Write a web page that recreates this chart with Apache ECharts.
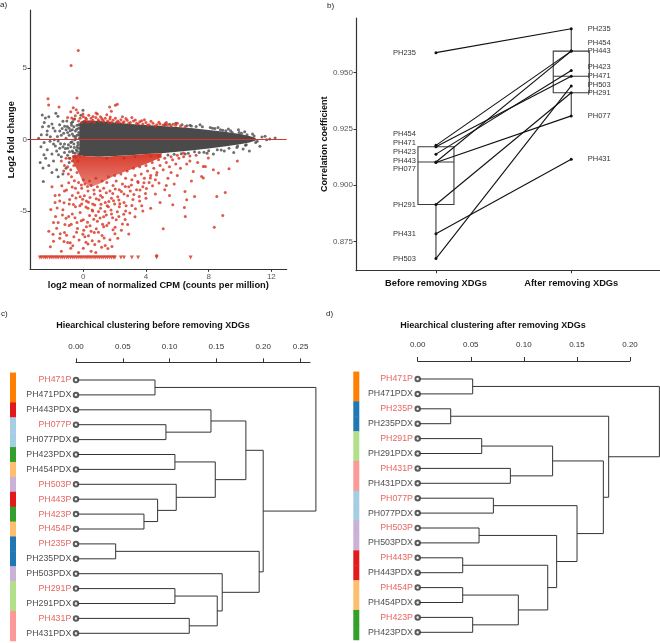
<!DOCTYPE html>
<html>
<head>
<meta charset="utf-8">
<script src="https://cdn.jsdelivr.net/npm/echarts@6.0.0/dist/echarts.min.js"></script>
<style>
html, body { margin: 0; padding: 0; background: #fff; }
#chart { width: 660px; height: 643px; }
</style>
</head>
<body>
<div id="chart"></div>
<script>
// ---------- panel a: MA plot ----------
// dense grey core drawn as an envelope (x, upper, lower)
const bandX  = [-0.25, 0, 1, 2, 3, 4, 5, 6, 7, 8, 9, 10, 10.6, 11];
const bandHi = [1.15, 1.35, 1.3, 1.2, 1.1, 1.02, 0.95, 0.88, 0.8, 0.68, 0.55, 0.4, 0.25, 0.12];
const bandLo = [-1.05, -1.15, -1.2, -1.15, -1.1, -1.0, -0.95, -0.85, -0.75, -0.62, -0.48, -0.32, -0.2, -0.06];
// dense red core just under the grey band
const coreX  = [-0.7, -0.3, 0, 0.5, 1, 1.5, 2, 2.5, 3, 3.5, 4, 4.5, 5];
const coreHi = [-1.1, -1.05, -1.15, -1.18, -1.2, -1.2, -1.15, -1.12, -1.1, -1.05, -1.0, -0.98, -0.95];
const coreLo = [-1.5, -2.3, -3.0, -3.3, -3.1, -2.8, -2.5, -2.3, -2.1, -1.9, -1.7, -1.45, -1.25];

const greyPts = [
  [-2.68,0.35],[-2.42,1.52],[-2.49,1.2],[-2.21,0.93],[-2.3,0.6],[-2.0,1.1],[-1.62,1.63],[-1.51,1.05],
  [-1.3,1.28],[-1.19,0.93],[-0.76,1.16],[-0.9,0.8],[-0.6,0.9],[-0.4,1.0],[-1.0,0.5],[-1.4,0.3],
  [-1.8,0.6],[-2.1,0.2],[-2.5,-0.2],[-2.7,-0.5],[-2.3,-0.7],[-1.9,-0.3],[-1.6,-0.1],[-1.2,-0.3],
  [-0.8,-0.2],[-0.5,0.2],[-0.3,0.5],[-0.7,0.4],[-1.1,0.1],[-1.5,-0.6],[-2.0,-1.0],[-2.4,-1.3],
  [-2.51,-1.05],[-2.57,-1.99],[-2.55,-2.92],[-2.2,-1.8],[-1.9,-1.5],[-1.7,-2.1],[-1.4,-1.2],[-1.2,-0.9],
  [-1.0,-0.6],[-0.7,-0.8],[-0.4,-0.5],[-0.3,-1.0],[-0.6,-1.2],[-0.9,-1.6],[-1.1,-2.0],[-1.3,-2.4],
  [-1.6,-2.6],[-2.0,-2.3],[-1.85,0.0],[-2.2,1.6],[-1.75,1.85],[-0.02,2.05],[-1.05,1.3],[-0.55,1.45],
  [-2.6,0.9],[-2.85,0.1],[-0.15,1.7],[-0.9,0.3],[-0.8,-0.5],[-0.7,0.7],[-0.6,-0.3],[-0.5,0.6],
  [-0.45,-0.7],[-0.4,0.3],[-0.35,-0.2],[-0.3,0.8],[-0.3,-0.6],[-0.25,0.1],[-0.2,-0.9],[-0.55,0.0],
  [-0.65,-0.9],[-0.75,1.0],[-1.1,0.7],[-1.3,-0.5],[-1.5,0.6],[-1.7,-0.8],[-1.0,-1.1],[-0.85,-1.3],
  [-1.25,0.45],[-0.95,-0.35],[-0.42,0.72],[-0.58,-0.55],[-0.33,-0.35],[-0.48,0.05],[-0.62,0.25],
  [-0.72,-0.15],[-0.83,0.62],[-0.38,-0.82],[-0.27,0.32],[-0.52,-0.95],[-0.68,1.25],[-0.88,-0.85],
  [-1.02,0.92],[-1.15,-0.62],[-1.35,0.78],[-1.45,-0.28],[-1.65,0.22],[-1.78,-0.45],[-2.12,-0.12],
  [-2.32,0.35],[-1.92,0.82],[-1.58,-1.05],[-2.75,-1.6],[-2.62,1.72],[-0.2,-1.05],[-0.28,1.05],
  [7.45,1.05],[9.26,0.75],[9.9,0.7],[8.6,0.85],[10.3,0.55],[10.8,0.4],[11.27,-0.47],[11.6,0.23],
  [12.24,0.12],[11.0,-0.2],[10.6,-0.8],[10.2,-0.65],[9.6,-0.9],[9.0,-0.8],[8.3,-1.0],[10.5,0.1],
  [11.7,0.0],[10.9,0.25],[9.5,0.5],[8.9,0.65],[6.8,1.0],[5.9,1.15],[7.9,-0.95],[6.5,-1.0],
  [8.1,0.85],[7.7,-0.88],[9.8,-0.55],[10.1,0.45],[11.4,0.18],[11.1,-0.12],[10.4,-0.35],[9.1,0.62],
  [8.4,0.78],[7.2,0.92],[6.3,1.05],[5.5,1.08],[11.9,0.05],[10.75,0.05],[8.8,-0.72],[7.1,-0.85],
  // ragged edge of the dense band
  [4.3,-1.15],[4.8,-1.12],[5.4,-1.08],[5.8,-1.02],[6.25,-0.98],[6.7,-0.95],[7.4,-0.9],[8.0,-0.78],
  [8.55,-0.7],[9.3,-0.6],[9.85,-0.45],[10.35,-0.4],[6.9,0.95],[7.6,0.9],[8.25,0.8],[8.75,0.7],
  [9.4,0.62],[9.95,0.5],[10.45,0.35],[5.2,1.05],[6.6,0.98],[3.3,-1.2],[2.6,-1.28],[1.5,-1.3]
];

const redPts = [
  // above the band
  [-0.2,1.5],[0.0,1.6],[0.2,1.45],[0.35,1.7],[0.5,1.5],[0.6,1.35],[0.8,1.55],[0.95,1.4],[1.1,1.6],
  [1.25,1.35],[1.4,1.5],[1.55,1.3],[1.7,1.45],[1.9,1.35],[2.05,1.5],[2.2,1.3],[2.4,1.4],[2.6,1.25],
  [2.8,1.35],[3.0,1.2],[3.2,1.3],[3.4,1.15],[3.6,1.25],[3.8,1.1],[4.0,1.2],[4.2,1.05],[4.45,1.15],
  [4.7,1.05],[4.9,1.1],[5.1,1.0],[5.35,1.05],[5.6,0.95],[5.9,1.0],[6.2,0.95],[6.5,0.9],[0.1,1.3],
  [0.45,1.25],[0.7,1.2],[1.3,1.25],[1.8,1.2],[2.3,1.2],[2.9,1.15],[3.5,1.1],[4.1,1.0],[4.6,0.95],
  [-0.3,1.3],[-0.1,1.2],[0.9,1.8],[1.5,1.75],[2.5,1.6],[3.1,1.55],[3.9,1.4],[5.3,1.2],[6.0,1.15],
  [0.15,1.52],[0.62,1.62],[1.02,1.28],[1.72,1.58],[2.12,1.22],[2.72,1.48],[3.32,1.38],[3.72,1.32],
  [4.32,1.28],[4.82,1.22],[5.22,1.12],[5.72,1.08],[0.28,1.22],[1.18,1.48],[1.62,1.22],[2.52,1.18],
  [-0.32,6.24],[-0.78,5.19],[-2.25,2.87],[-2.21,2.43],[-1.55,2.29],[-0.4,2.92],[-0.64,2.24],
  [-0.8,1.96],[1.68,2.29],[2.17,2.47],[2.05,2.4],[1.79,1.99],[0.81,1.87],[-0.02,1.8],[-0.51,1.68],
  [-0.74,1.52],[-0.45,2.1],[-1.0,1.55],[-0.35,1.88],[-0.62,1.42],
  // left of the core
  [-0.9,-1.3],[-0.7,-1.5],[-0.5,-1.2],[-0.6,-1.8],[-0.8,-2.1],[-0.4,-2.3],[-1.0,-1.9],[-0.35,-1.5],
  [-1.4,-1.5],[-1.2,-1.8],[-1.1,-1.3],[-0.95,-2.4],[-1.25,-2.2],[-0.75,-2.6],
  // below the core
  [-0.3,-3.0],[-0.1,-3.4],[0.1,-3.1],[0.3,-3.6],[0.5,-3.2],[0.7,-3.8],[0.9,-3.3],[1.1,-3.9],
  [1.3,-3.4],[1.5,-3.0],[1.7,-3.6],[1.9,-3.2],[2.1,-2.9],[2.3,-3.5],[2.5,-3.1],[2.7,-2.7],
  [2.9,-3.3],[3.1,-2.8],[3.3,-2.5],[3.5,-3.0],[3.7,-2.4],[3.9,-2.7],[4.1,-2.2],[4.3,-2.5],
  [4.5,-2.0],[4.7,-2.3],[4.9,-1.8],[5.1,-2.1],[5.3,-1.6],[5.5,-1.9],[5.7,-1.4],[5.9,-1.7],
  [6.1,-1.3],[-0.2,-4.0],[0.2,-4.3],[0.6,-4.5],[1.0,-4.2],[1.4,-4.4],[1.8,-4.1],[2.2,-4.0],
  [2.6,-3.8],[3.0,-3.6],[3.4,-3.5],[3.8,-3.3],[4.2,-3.0],[4.6,-2.8],[0.0,-2.8],[0.4,-2.9],
  [0.8,-2.7],[1.2,-2.9],[1.6,-2.6],[2.0,-2.5],[2.4,-2.4],[2.8,-2.2],[3.2,-2.0],[3.6,-1.9],
  [4.0,-1.8],[4.4,-1.6],[4.8,-1.4],[5.2,-1.3],[5.6,-1.2],[6.0,-1.1],[6.4,-1.2],[6.8,-1.15],[7.2,-1.1],
  [-0.93,-3.02],[-0.71,-3.31],[-0.57,-2.88],[-0.33,-3.72],[-0.12,-3.18],[0.07,-3.93],[0.27,-3.27],
  [0.43,-4.05],[0.68,-3.52],[0.83,-4.14],[1.07,-3.58],[1.22,-4.03],[1.47,-3.71],[1.63,-4.32],
  [1.88,-3.77],[2.04,-3.46],[2.27,-4.22],[2.43,-3.63],[2.68,-3.28],[2.83,-3.92],[3.07,-3.17],
  [3.23,-3.84],[3.48,-2.93],[3.62,-3.53],[3.87,-3.02],[4.03,-3.41],[4.28,-2.68],[4.42,-3.22],
  [4.67,-2.47],[4.83,-3.04],
  // deeper scatter
  [-0.87,-4.18],[-0.63,-4.53],[-0.47,-4.08],[-0.22,-4.63],[-0.04,-4.17],[0.17,-4.72],[0.33,-4.38],
  [0.57,-4.93],[0.73,-4.58],[0.97,-5.03],[1.13,-4.52],[1.38,-5.02],[1.52,-4.63],[1.77,-4.92],
  [1.93,-4.28],[2.17,-5.04],[2.33,-4.48],[2.58,-5.22],[2.73,-4.62],[2.97,-5.13],[3.17,-4.18],
  [3.33,-4.83],[3.57,-3.98],[3.73,-4.62],[3.97,-3.77],
  [-1.33,-5.28],[-1.17,-5.93],[-0.93,-5.38],[-0.77,-5.92],[-0.53,-5.47],[-0.37,-6.22],[-0.13,-5.68],
  [0.03,-6.33],[0.27,-5.78],[0.43,-6.02],[0.67,-5.57],[0.83,-6.23],[1.07,-5.48],[1.23,-5.92],
  [1.47,-5.28],[1.63,-5.83],[1.87,-5.47],[2.03,-6.12],[2.27,-5.38],[2.43,-6.33],[2.67,-5.58],[2.83,-5.93],
  [-1.47,-6.58],[-1.23,-7.12],[-1.07,-6.68],[-0.83,-7.22],[-0.67,-7.43],[-0.43,-6.48],[-0.27,-7.02],
  [-0.03,-6.62],[0.17,-7.18],[0.33,-6.72],[0.57,-7.08],[0.73,-7.33],[0.97,-6.48],[1.17,-7.52],
  [1.33,-6.88],[1.57,-7.62],[1.83,-7.48],[2.02,-6.58],
  [-1.67,-4.78],[-1.53,-3.88],[-1.37,-3.22],[-1.23,-4.42],[-1.07,-3.52],[-1.77,-5.38],[-2.07,-4.88],[-1.93,-6.62],
  [-1.3,-4.9],[-1.1,-5.5],[-0.9,-6.0],[-1.2,-6.5],[-1.5,-6.9],[-1.0,-7.2],[-0.8,-7.6],[-0.6,-6.8],
  [-0.4,-5.8],[-0.7,-5.2],[-0.5,-4.7],[-0.2,-5.1],[0.0,-5.6],[0.2,-6.1],[0.4,-5.3],[0.1,-6.8],
  [0.3,-7.3],[0.5,-7.8],[0.7,-6.5],[0.9,-5.7],[0.6,-5.0],[1.1,-4.8],[1.3,-5.4],[1.5,-6.0],
  [1.2,-6.7],[1.4,-7.4],[1.7,-7.0],[1.9,-6.3],[1.8,-5.2],[2.1,-5.6],[2.3,-4.7],[2.5,-5.9],
  [2.7,-5.0],[2.9,-6.6],[3.1,-4.6],[3.3,-5.4],[3.6,-4.3],[3.8,-5.0],[4.0,-4.1],[4.3,-4.8],
  [4.6,-3.8],[4.9,-4.4],[5.2,-3.5],[5.5,-3.9],[0.0,-7.6],[-0.3,-7.9],[0.8,-7.9],[1.0,-7.1],
  [-1.6,-5.8],[-1.8,-4.4],[-2.0,-3.3],[-1.8,-3.9],[-1.9,-5.8],[-1.9,-7.1],[-1.4,-7.8],[-2.2,-6.4],
  [-2.1,-7.5],[-1.7,-6.2],[-1.2,-3.6],[-0.7,-3.9],[-1.5,-4.3],[-0.9,-4.5],[0.3,-4.8],[0.8,-5.3],
  [1.6,-4.7],[2.0,-4.5],[2.6,-4.4],[-0.5,-3.4],[-0.1,-4.5],[0.5,-6.4],[1.3,-6.1],[2.2,-6.9],
  // right side
  [6.39,-0.93],[6.8,-1.5],[7.02,-2.22],[7.66,-1.87],[7.79,-1.87],[7.98,-1.28],[8.3,-2.1],[8.62,-2.34],
  [9.3,-2.04],[9.83,-1.5],[7.55,-2.57],[7.66,-2.69],[6.49,-3.63],[6.6,-4.2],[5.71,-4.56],[8.52,-3.97],
  [9.06,-3.69],[7.1,-3.97],[6.45,-4.74],[6.51,-5.37],[8.9,-5.3],[8.36,-6.12],[5.1,-6.24],[4.68,-8.1],
  [6.0,-2.5],[5.8,-3.1],[6.2,-2.0],[7.3,-1.6],[5.4,-2.7],[6.9,-2.9],[5.6,-2.3],[6.6,-1.7],[5.3,-3.2]
];
// genes below the plot floor, drawn as down triangles
const clippedX = [-2.77,-2.66,-2.52,-2.41,-2.3,-2.16,-2.05,-1.93,-1.8,-1.68,-1.57,-1.43,-1.32,-1.2,
  -1.06,-0.95,-0.82,-0.7,-0.58,-0.45,-0.33,-0.2,-0.08,0.05,0.18,0.3,0.43,0.55,0.68,0.8,0.93,1.05,
  1.18,1.3,1.43,1.55,1.68,1.8,1.93,2.02,2.4,2.6,3.1,3.5,4.68,6.85];
const clippedY = -8.25;
const maXTicks = [0, 4, 8, 12];
const maYTicks = [-5, 0, 5];

// ---------- panel b: correlation before/after ----------
const samples = ['PH235', 'PH454', 'PH471', 'PH423', 'PH443', 'PH077', 'PH291', 'PH431', 'PH503'];
const corBefore = [0.9589, 0.9177, 0.9171, 0.9138, 0.9103, 0.9101, 0.8914, 0.8784, 0.8674];
const corAfter  = [0.9695, 0.9596, 0.9484, 0.9510, 0.9596, 0.9308, 0.9411, 0.9115, 0.9441];
const corTicks = [0.875, 0.900, 0.925, 0.950];
const groupNames = ['Before removing XDGs', 'After removing XDGs'];

// ---------- panels c, d: dendrograms ----------
const leavesC = ['PH471P', 'PH471PDX', 'PH443PDX', 'PH077P', 'PH077PDX', 'PH423PDX', 'PH454PDX',
  'PH503P', 'PH443P', 'PH423P', 'PH454P', 'PH235P', 'PH235PDX', 'PH503PDX', 'PH291P', 'PH291PDX',
  'PH431P', 'PH431PDX'];
// [child, child, height]; a number refers to an earlier merge row
const mergesC = [
  ['PH471P', 'PH471PDX', 0.0844],
  ['PH077P', 'PH077PDX', 0.0961],
  ['PH443PDX', 1, 0.1442],
  ['PH423PDX', 'PH454PDX', 0.1057],
  ['PH423P', 'PH454P', 0.0726],
  ['PH443P', 4, 0.0872],
  ['PH503P', 5, 0.1071],
  [3, 6, 0.1488],
  [2, 7, 0.1815],
  ['PH235P', 'PH235PDX', 0.0424],
  ['PH291P', 'PH291PDX', 0.1057],
  ['PH431P', 'PH431PDX', 0.1210],
  [10, 11, 0.1509],
  ['PH503PDX', 12, 0.1562],
  [9, 13, 0.1957],
  [8, 14, 0.2000],
  [0, 15, 0.2563]
];
const ticksC = [0, 0.05, 0.10, 0.15, 0.20, 0.24];
const tickLabelsC = ['0.00', '0.05', '0.10', '0.15', '0.20', '0.25'];

const leavesD = ['PH471P', 'PH471PDX', 'PH235P', 'PH235PDX', 'PH291P', 'PH291PDX', 'PH431P',
  'PH431PDX', 'PH077P', 'PH077PDX', 'PH503P', 'PH503PDX', 'PH443P', 'PH443PDX', 'PH454P',
  'PH454PDX', 'PH423P', 'PH423PDX'];
const mergesD = [
  ['PH471P', 'PH471PDX', 0.0518],
  ['PH235P', 'PH235PDX', 0.0311],
  ['PH291P', 'PH291PDX', 0.0603],
  ['PH431P', 'PH431PDX', 0.0873],
  [2, 3, 0.1271],
  ['PH077P', 'PH077PDX', 0.0713],
  ['PH503P', 'PH503PDX', 0.0578],
  ['PH443P', 'PH443PDX', 0.0424],
  ['PH454P', 'PH454PDX', 0.0424],
  ['PH423P', 'PH423PDX', 0.0518],
  [8, 9, 0.0948],
  [7, 10, 0.1225],
  [6, 11, 0.1309],
  [5, 12, 0.1501],
  [4, 13, 0.1749],
  [1, 14, 0.1799],
  [0, 15, 0.2277]
];
const ticksD = [0, 0.05, 0.10, 0.15, 0.20];

const patientColor = {
  PH471: '#FF7F00', PH443: '#E31A1C', PH077: '#A6CEE3', PH423: '#33A02C', PH454: '#FDBF6F',
  PH503: '#CAB2D6', PH235: '#1F78B4', PH291: '#B2DF8A', PH431: '#FB9A99'
};

const FONT = '"Liberation Sans", Arial, sans-serif';
const GREY = '#4a4a4a';
const RED = '#d7301f';
const AXIS = '#333';

const chart = echarts.init(document.getElementById('chart'));

function dendroSegments(leaves, merges) {
  const pos = [];
  const segs = [];
  const node = (c) => (typeof c === 'string' ? [0, leaves.indexOf(c)] : pos[c]);
  merges.forEach(([a, b, h]) => {
    const na = node(a), nb = node(b);
    segs.push([na[0], na[1], h, na[1]]);
    segs.push([nb[0], nb[1], h, nb[1]]);
    segs.push([h, na[1], h, nb[1]]);
    pos.push([h, (na[1] + nb[1]) / 2]);
  });
  return segs;
}

function quantile(sorted, p) {
  const h = (sorted.length - 1) * p;
  const lo = Math.floor(h);
  return sorted[lo] + (h - lo) * ((sorted[lo + 1] ?? sorted[lo]) - sorted[lo]);
}
function boxStats(values) {
  const s = [...values].sort((a, b) => a - b);
  const q1 = quantile(s, 0.25), med = quantile(s, 0.5), q3 = quantile(s, 0.75);
  const iqr = q3 - q1;
  const lo = s.find((v) => v >= q1 - 1.5 * iqr);
  const hi = [...s].reverse().find((v) => v <= q3 + 1.5 * iqr);
  return [lo, q1, med, q3, hi];
}

function dendroSeries(idx, leaves, merges, barLeft) {
  const segStyle = { stroke: '#333', lineWidth: 1 };
  return [
    {
      type: 'custom', xAxisIndex: idx, yAxisIndex: idx, silent: true,
      data: dendroSegments(leaves, merges),
      encode: { x: [0, 2], y: [1, 3] },
      renderItem: (params, api) => {
        const p1 = api.coord([api.value(0), api.value(1)]);
        const p2 = api.coord([api.value(2), api.value(3)]);
        return { type: 'line', shape: { x1: p1[0], y1: p1[1], x2: p2[0], y2: p2[1] }, style: segStyle };
      }
    },
    {
      type: 'custom', xAxisIndex: idx, yAxisIndex: idx, silent: true,
      data: leaves.map((n, i) => [0, i]),
      renderItem: (params, api) => {
        const i = api.value(1);
        const top = api.coord([0, i - 0.5]);
        const bot = api.coord([0, i + 0.5]);
        const name = leaves[params.dataIndex];
        return {
          type: 'rect',
          shape: { x: top[0] - barLeft, y: top[1], width: 6, height: bot[1] - top[1] + 0.5 },
          style: { fill: patientColor[name.slice(0, 5)] }
        };
      }
    },
    {
      type: 'scatter', xAxisIndex: idx, yAxisIndex: idx, silent: true,
      symbol: 'emptyCircle', symbolSize: 4.5,
      itemStyle: { color: '#333', borderWidth: 1 },
      data: leaves.map((n, i) => ({
        value: [0, i], name: n,
        label: { color: n.endsWith('PDX') ? '#1a1a1a' : '#e0403a' }
      })),
      label: { show: true, position: 'left', distance: 1.5, formatter: '{b}', fontSize: 8.8, fontFamily: FONT },
      z: 4
    }
  ];
}

const corSeries = samples.map((s, i) => {
  const nudgeB = { PH454: -11.5, PH471: -3.6, PH423: -2.7, PH443: -0.7, PH077: 6.5 };
  const nudgeA = { PH454: -8.6, PH423: -3.4, PH471: -0.7, PH503: -1.4 };
  return {
    type: 'line', xAxisIndex: 1, yAxisIndex: 1, silent: true,
    data: [
      { value: [1, corBefore[i]], label: { position: 'left', distance: 18.5, offset: [0, nudgeB[s] || 0] } },
      { value: [2, corAfter[i]], label: { position: 'right', distance: 15, offset: [0, nudgeA[s] || 0] } }
    ],
    symbol: 'circle', symbolSize: 3, showSymbol: true,
    lineStyle: { color: '#111', width: 1.1 }, itemStyle: { color: '#111' },
    label: { show: true, formatter: s, fontSize: 7.5, color: '#333', fontFamily: FONT },
    z: 3
  };
});

const boxData = [[1, ...boxStats(corBefore)], [2, ...boxStats(corAfter)]];

const option = {
  animation: false,
  backgroundColor: '#fff',
  textStyle: { fontFamily: FONT },
  graphic: [
    { type: 'text', x: 0, y: 1, style: { text: 'a)', font: '8px ' + FONT, fill: '#222' } },
    { type: 'text', x: 327, y: 2, style: { text: 'b)', font: '8px ' + FONT, fill: '#222' } },
    { type: 'text', x: 1, y: 310, style: { text: 'c)', font: '8px ' + FONT, fill: '#222' } },
    { type: 'text', x: 326, y: 310, style: { text: 'd)', font: '8px ' + FONT, fill: '#222' } },
    { type: 'text', x: 153, y: 326, style: { text: 'Hiearchical clustering before removing XDGs', font: 'bold 9px ' + FONT, fill: '#111', textAlign: 'center', textVerticalAlign: 'middle' } },
    { type: 'text', x: 493, y: 326, style: { text: 'Hiearchical clustering after removing XDGs', font: 'bold 9px ' + FONT, fill: '#111', textAlign: 'center', textVerticalAlign: 'middle' } }
  ],
  grid: [
    { left: 30, top: 10, width: 256.7, height: 259.3 },
    { left: 356, top: 18, width: 304, height: 252.7 },
    { left: 76, top: 362.3, width: 234, height: 280.7 },
    { left: 417.7, top: 361, width: 212.3, height: 282 }
  ],
  xAxis: [
    {
      gridIndex: 0, type: 'value', min: -3.4, max: 12.98, splitLine: { show: false },
      axisLine: { onZero: false, lineStyle: { color: AXIS, width: 1.2 } },
      axisTick: { customValues: maXTicks, length: 2.5, lineStyle: { color: AXIS } },
      axisLabel: { customValues: maXTicks, fontSize: 8, color: '#555', margin: 3 },
      name: 'log2 mean of normalized CPM (counts per million)', nameLocation: 'middle', nameGap: 12,
      nameTextStyle: { fontSize: 9.3, fontWeight: 'bold', color: '#111' }
    },
    {
      gridIndex: 1, type: 'value', min: 0.409, max: 2.656, splitLine: { show: false },
      axisLine: { onZero: false, lineStyle: { color: AXIS, width: 1.2 } },
      axisTick: { customValues: [1, 2], length: 2.5, lineStyle: { color: AXIS } },
      axisLabel: { customValues: [1, 2], formatter: (v) => groupNames[v - 1], fontSize: 9.3, fontWeight: 'bold', color: '#111', margin: 8 }
    },
    {
      gridIndex: 2, type: 'value', position: 'top', min: 0, max: 0.25, splitLine: { show: false },
      axisLine: { onZero: false, lineStyle: { color: AXIS } },
      axisTick: { customValues: ticksC, length: 4, lineStyle: { color: AXIS } },
      axisLabel: { customValues: ticksC, formatter: (v) => tickLabelsC[ticksC.indexOf(v)], fontSize: 8, color: '#333', margin: 12 }
    },
    {
      gridIndex: 3, type: 'value', position: 'top', min: 0, max: 0.2, splitLine: { show: false },
      axisLine: { onZero: false, lineStyle: { color: AXIS } },
      axisTick: { customValues: ticksD, length: 4, lineStyle: { color: AXIS } },
      axisLabel: { customValues: ticksD, formatter: (v) => v.toFixed(2), fontSize: 8, color: '#333', margin: 12 }
    }
  ],
  yAxis: [
    {
      gridIndex: 0, type: 'value', min: -9.07, max: 9.07, splitLine: { show: false },
      axisLine: { show: true, onZero: false, lineStyle: { color: AXIS, width: 1.2 } },
      axisTick: { show: true, customValues: maYTicks, length: 2.5, lineStyle: { color: AXIS } },
      axisLabel: { customValues: maYTicks, fontSize: 8, color: '#555', margin: 3 },
      name: 'Log2 fold change', nameLocation: 'middle', nameGap: 14,
      nameTextStyle: { fontSize: 9.3, fontWeight: 'bold', color: '#111' }
    },
    {
      gridIndex: 1, type: 'value', min: 0.862, max: 0.9743, splitLine: { show: false },
      axisLine: { show: true, onZero: false, lineStyle: { color: AXIS, width: 1.2 } },
      axisTick: { show: true, customValues: corTicks, length: 2.5, lineStyle: { color: AXIS } },
      axisLabel: { customValues: corTicks, formatter: (v) => v.toFixed(3), fontSize: 8, color: '#555', margin: 3 },
      name: 'Correlation coefficient', nameLocation: 'middle', nameGap: 27,
      nameTextStyle: { fontSize: 9, fontWeight: 'bold', color: '#111' }
    },
    { gridIndex: 2, type: 'value', inverse: true, min: -1.188, max: 17.651, show: false },
    { gridIndex: 3, type: 'value', inverse: true, min: -1.208, max: 17.718, show: false }
  ],
  series: [
    // panel a
    {
      type: 'custom', xAxisIndex: 0, yAxisIndex: 0, silent: true, data: [[0, 0]], z: 1,
      renderItem: (params, api) => {
        const pts = bandX.map((x, i) => api.coord([x, bandHi[i]]))
          .concat(bandX.map((x, i) => api.coord([x, bandLo[i]])).reverse());
        return { type: 'polygon', shape: { points: pts }, style: { fill: GREY } };
      }
    },
    {
      type: 'scatter', xAxisIndex: 0, yAxisIndex: 0, silent: true, z: 2,
      symbolSize: 3, itemStyle: { color: GREY }, data: greyPts
    },
    {
      type: 'custom', xAxisIndex: 0, yAxisIndex: 0, silent: true, data: [[0, 0]], z: 3,
      renderItem: (params, api) => {
        const pts = coreX.map((x, i) => api.coord([x, coreHi[i]]))
          .concat(coreX.map((x, i) => api.coord([x, coreLo[i]])).reverse());
        const fill = new echarts.graphic.LinearGradient(0, 0, 0, 1, [
          { offset: 0, color: 'rgba(215,48,31,0.95)' },
          { offset: 1, color: 'rgba(215,48,31,0.6)' }
        ]);
        return { type: 'polygon', shape: { points: pts }, style: { fill } };
      }
    },
    {
      type: 'scatter', xAxisIndex: 0, yAxisIndex: 0, silent: true, z: 4,
      symbolSize: 3, itemStyle: { color: RED }, data: redPts,
      markLine: {
        silent: true, symbol: 'none', label: { show: false },
        lineStyle: { color: '#d9352b', width: 1.2, type: 'solid' },
        data: [{ yAxis: 0 }]
      }
    },
    {
      type: 'scatter', xAxisIndex: 0, yAxisIndex: 0, silent: true, z: 4,
      symbol: 'triangle', symbolRotate: 180, symbolSize: 4,
      itemStyle: { color: RED }, data: clippedX.map((x) => [x, clippedY])
    },
    // panel b
    {
      type: 'custom', xAxisIndex: 1, yAxisIndex: 1, silent: true, data: boxData, z: 2,
      encode: { x: 0, y: [1, 2, 3, 4, 5] },
      renderItem: (params, api) => {
        const x = api.value(0);
        const p = [1, 2, 3, 4, 5].map((d) => api.coord([x, api.value(d)]));
        const cx = p[0][0], hw = 18;
        const st = { stroke: '#3a3a3a', lineWidth: 1.1, fill: 'none' };
        return {
          type: 'group',
          children: [
            { type: 'line', shape: { x1: cx, y1: p[0][1], x2: cx, y2: p[1][1] }, style: st },
            { type: 'line', shape: { x1: cx, y1: p[3][1], x2: cx, y2: p[4][1] }, style: st },
            { type: 'rect', shape: { x: cx - hw, y: p[3][1], width: 2 * hw, height: p[1][1] - p[3][1] }, style: st },
            { type: 'line', shape: { x1: cx - hw, y1: p[2][1], x2: cx + hw, y2: p[2][1] }, style: st }
          ]
        };
      }
    },
    ...corSeries,
    // panels c, d
    ...dendroSeries(2, leavesC, mergesC, 66),
    ...dendroSeries(3, leavesD, mergesD, 64.4)
  ]
};

chart.setOption(option);
</script>
</body>
</html>
